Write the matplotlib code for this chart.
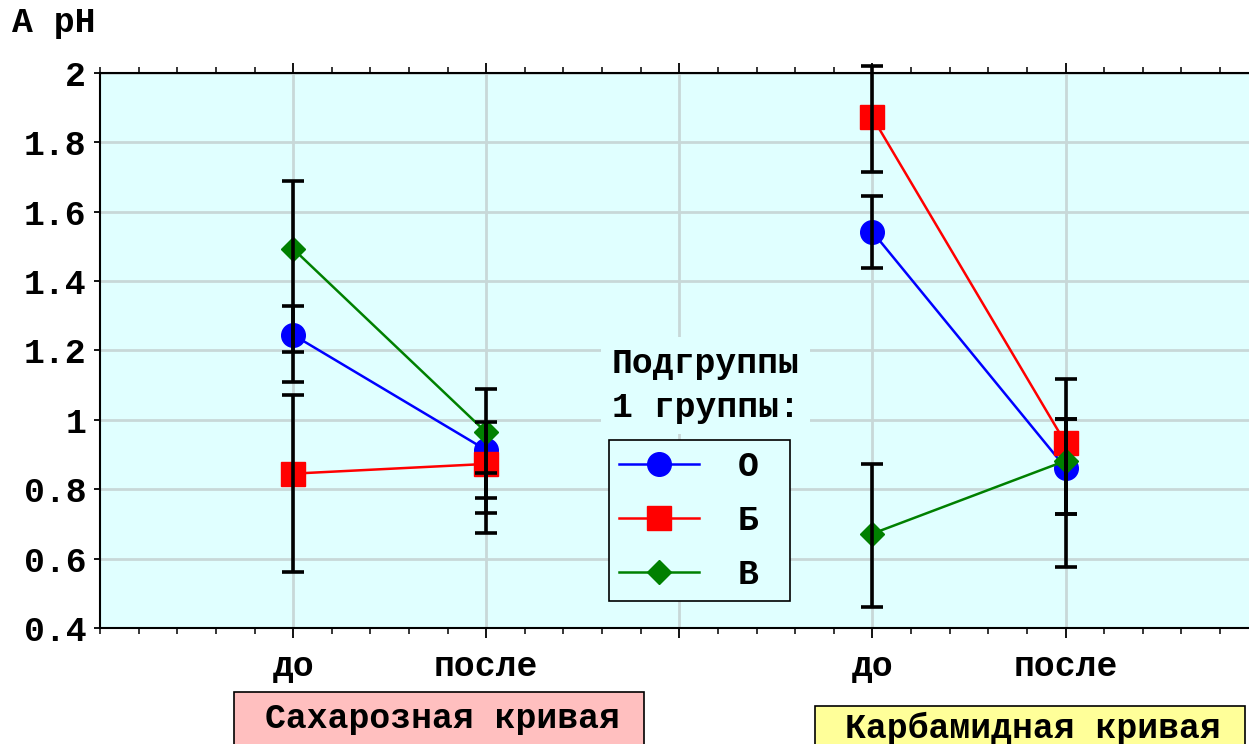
import matplotlib
matplotlib.use("Agg")
import matplotlib.pyplot as plt
from matplotlib.patches import Rectangle
import numpy as np

# x positions: sucrose curve (до, после), gap, carbamide curve (до, после)
x_sug = [1, 2]
x_carb = [4, 5]
tick_labels = ["до", "после", "", "до", "после"]

groups = ["О", "Б", "В"]
colors = ["#0000ff", "#ff0000", "#008000"]
markers = ["o", "s", "D"]

# mean values, sucrose curve
sug_mean = {"О": [1.245, 0.913], "Б": [0.845, 0.873], "В": [1.493, 0.964]}
# error-bar ends (low, high)
sug_lo = {"О": [1.109, 0.731], "Б": [0.562, 0.673], "В": [1.196, 0.774]}
sug_hi = {"О": [1.328, 0.993], "Б": [1.072, 0.846], "В": [1.690, 1.089]}

# carbamide curve
carb_mean = {"О": [1.542, 0.862], "Б": [1.872, 0.933], "В": [0.672, 0.882]}
carb_lo = {"О": [1.438, 0.728], "Б": [1.716, 0.728], "В": [0.461, 0.575]}
carb_hi = {"О": [1.644, 1.002], "Б": [2.020, 1.117], "В": [0.872, 1.002]}

FONT = "Liberation Mono"
FS = 25
BG = "#e0ffff"

plt.rcParams["font.family"] = FONT
plt.rcParams["font.weight"] = "bold"

fig = plt.figure(figsize=(12.49, 7.44), dpi=100)
ax = fig.add_axes([0.0801, 0.1559, 0.9199, 0.746])
ax.set_facecolor(BG)
ax.set_axisbelow(True)

msize = {"o": 17, "s": 17, "D": 12}
handles = []
for g, c, m in zip(groups, colors, markers):
    for xs, mean in [(x_sug, sug_mean), (x_carb, carb_mean)]:
        h, = ax.plot(xs, mean[g], color=c, lw=1.8, marker=m, ms=msize[m],
                     mec=c, mfc=c, zorder=3)
    handles.append(h)

# error bars on top of markers
for xs, lo, hi in [(x_sug, sug_lo, sug_hi), (x_carb, carb_lo, carb_hi)]:
    for g in groups:
        l = np.array(lo[g])
        u = np.array(hi[g])
        eb = ax.errorbar(xs, (l + u) / 2, yerr=(u - l) / 2, fmt="none",
                         ecolor="black", elinewidth=2.6, capsize=8,
                         capthick=2.6, zorder=4)
        for art in eb.lines[1] + eb.lines[2]:
            art.set_clip_on(False)

ax.set_xlim(0, 5.95)
ax.set_ylim(0.4, 2.0)
ax.set_xticks([1, 2, 3, 4, 5])
ax.set_xticklabels(tick_labels)
ax.set_xticks(np.arange(0, 6, 0.2), minor=True)
ax.set_yticks(np.arange(0.4, 2.01, 0.2))
ax.set_yticklabels(["0.4", "0.6", "0.8", "1", "1.2", "1.4", "1.6", "1.8", "2"])

ax.grid(True, which="major", color="#c8d8d8", lw=2)
for s in ["left", "bottom", "top"]:
    ax.spines[s].set_linewidth(1.5)
ax.spines["right"].set_visible(False)

ax.tick_params(axis="x", which="major", direction="out", length=7, width=1.3,
               top=True, labelsize=FS, pad=9)
ax.tick_params(axis="x", which="minor", direction="out", length=4, width=1.1,
               top=True)
ax.tick_params(axis="y", which="major", direction="out", length=4, width=1.3,
               labelsize=FS, pad=6)

fig.text(0.01, 0.97, "A pH", fontsize=FS, fontweight="bold",
         ha="left", va="center")

# legend title sits above the box on its own background
ax.text(0.4453, 0.437, "Подгруппы\n1 группы:", transform=ax.transAxes,
        fontsize=FS, fontweight="bold", ha="left", va="center",
        linespacing=1.4, zorder=5,
        bbox=dict(boxstyle="square,pad=0.3", fc=BG, ec="none"))

leg = ax.legend(handles, [g + " " for g in groups], loc="upper left",
                bbox_to_anchor=(0.443, 0.339), borderaxespad=0, fontsize=FS,
                frameon=True, fancybox=False, edgecolor="black",
                facecolor=BG, framealpha=1, handlelength=2.3,
                handletextpad=1.1, labelspacing=0.6, borderpad=0.3,
                markerscale=1.0)
leg.get_frame().set_linewidth(1.2)
leg.set_zorder(5)

# captions under the two curve groups, boxes run off the bottom edge
fig.patches.append(Rectangle((0.1874, -0.02), 0.3283, 0.0899,
                             transform=fig.transFigure, fc="#ffbfbf",
                             ec="black", lw=1.2))
fig.patches.append(Rectangle((0.6525, -0.02), 0.3443, 0.0711,
                             transform=fig.transFigure, fc="#ffff99",
                             ec="black", lw=1.2))
fig.text(0.354, 0.0215, "Сахарозная кривая", fontsize=FS, fontweight="bold",
         ha="center", va="baseline")
fig.text(0.827, 0.008, "Карбамидная кривая", fontsize=FS, fontweight="bold",
         ha="center", va="baseline")

fig.savefig("out.png", dpi=100)
